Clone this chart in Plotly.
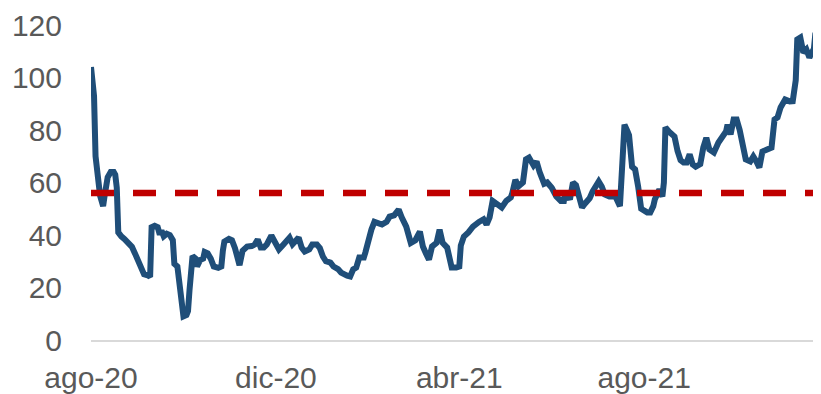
import plotly.graph_objects as go

dates = [
    "2020-08-01", "2020-08-02", "2020-08-03", "2020-08-04", "2020-08-05", "2020-08-06", "2020-08-07",
    "2020-08-08", "2020-08-09", "2020-08-10", "2020-08-11", "2020-08-12", "2020-08-14", "2020-08-16",
    "2020-08-17", "2020-08-18", "2020-08-19", "2020-08-20", "2020-08-21", "2020-08-23", "2020-08-25",
    "2020-08-28", "2020-08-30", "2020-09-01", "2020-09-03", "2020-09-05", "2020-09-08", "2020-09-09",
    "2020-09-10", "2020-09-12", "2020-09-14", "2020-09-15", "2020-09-17", "2020-09-18", "2020-09-20",
    "2020-09-22", "2020-09-24", "2020-09-25", "2020-09-27", "2020-09-29", "2020-09-30", "2020-10-01",
    "2020-10-03", "2020-10-04", "2020-10-05", "2020-10-06", "2020-10-07", "2020-10-09", "2020-10-10",
    "2020-10-12", "2020-10-14", "2020-10-15", "2020-10-17", "2020-10-19", "2020-10-21", "2020-10-24",
    "2020-10-26", "2020-10-27", "2020-10-28", "2020-10-31", "2020-11-02", "2020-11-04", "2020-11-06",
    "2020-11-07", "2020-11-09", "2020-11-12", "2020-11-15", "2020-11-17", "2020-11-19", "2020-11-21",
    "2020-11-23", "2020-11-25", "2020-11-28", "2020-11-30", "2020-12-03", "2020-12-06", "2020-12-10",
    "2020-12-12", "2020-12-14", "2020-12-16", "2020-12-18", "2020-12-20", "2020-12-23", "2020-12-25",
    "2020-12-28", "2020-12-30", "2021-01-01", "2021-01-03", "2021-01-06", "2021-01-08", "2021-01-11",
    "2021-01-13", "2021-01-17", "2021-01-19", "2021-01-21", "2021-01-23", "2021-01-25", "2021-01-28",
    "2021-01-29", "2021-01-31", "2021-02-02", "2021-02-04", "2021-02-07", "2021-02-09", "2021-02-12",
    "2021-02-14", "2021-02-17", "2021-02-20", "2021-02-22", "2021-02-25", "2021-02-28", "2021-03-03",
    "2021-03-06", "2021-03-08", "2021-03-10", "2021-03-12", "2021-03-14", "2021-03-17", "2021-03-19",
    "2021-03-21", "2021-03-24", "2021-03-26", "2021-03-27", "2021-03-30", "2021-04-01", "2021-04-02",
    "2021-04-04", "2021-04-07", "2021-04-10", "2021-04-14", "2021-04-17", "2021-04-19", "2021-04-21",
    "2021-04-23", "2021-04-26", "2021-04-29", "2021-05-02", "2021-05-05", "2021-05-06", "2021-05-08",
    "2021-05-10", "2021-05-13", "2021-05-15", "2021-05-17", "2021-05-20", "2021-05-22", "2021-05-24",
    "2021-05-27", "2021-05-29", "2021-06-01", "2021-06-04", "2021-06-07", "2021-06-09", "2021-06-10",
    "2021-06-13", "2021-06-15", "2021-06-17", "2021-06-19", "2021-06-21", "2021-06-23", "2021-06-26",
    "2021-06-28", "2021-07-02", "2021-07-04", "2021-07-06", "2021-07-09", "2021-07-13", "2021-07-16",
    "2021-07-17", "2021-07-19", "2021-07-21", "2021-07-22", "2021-07-24", "2021-07-26", "2021-07-28",
    "2021-07-30", "2021-08-03", "2021-08-05", "2021-08-07", "2021-08-08", "2021-08-11", "2021-08-13",
    "2021-08-14", "2021-08-15", "2021-08-18", "2021-08-21", "2021-08-23", "2021-08-25", "2021-08-27",
    "2021-08-29", "2021-08-31", "2021-09-02", "2021-09-04", "2021-09-07", "2021-09-09", "2021-09-11",
    "2021-09-13", "2021-09-16", "2021-09-19", "2021-09-22", "2021-09-24", "2021-09-25", "2021-09-27",
    "2021-09-29", "2021-10-01", "2021-10-03", "2021-10-05", "2021-10-07", "2021-10-10", "2021-10-12",
    "2021-10-14", "2021-10-16", "2021-10-18", "2021-10-21", "2021-10-24", "2021-10-26", "2021-10-28",
    "2021-10-30", "2021-11-02", "2021-11-05", "2021-11-07", "2021-11-09", "2021-11-10", "2021-11-12",
    "2021-11-14", "2021-11-16", "2021-11-18", "2021-11-20", "2021-11-21", "2021-11-22", "2021-11-24",
    "2021-11-25",
]

values = [
    104, 95, 93, 70, 63, 61, 55,
    53, 51, 55, 59, 62, 64, 64,
    63, 58, 41, 40, 39.5, 38.5, 37.5,
    35.5, 33, 30, 26.5, 25, 24.5, 24,
    43, 43.5, 43, 41, 41, 39.5, 40.5,
    40, 38, 29, 28, 20, 15, 9,
    9.5, 11, 19, 25, 32, 31, 28,
    30.5, 31, 33.5, 33, 31, 28, 27.5,
    28, 34, 37.5, 38.5, 38, 35, 29,
    28.5, 34, 35.6, 35.8, 36.4, 38.3, 35.2,
    35.2, 36.4, 39.8, 37.5, 34.5, 36.4, 39,
    36.5, 37.5, 39, 35.2, 33.7, 34.5, 36.4,
    36.4, 35, 31.8, 30, 29.5, 28, 27,
    25.7, 24.5, 24.2, 26.9, 27.6, 31.4, 31.4,
    33.3, 38.3, 42, 45, 44.5, 44, 45,
    47, 47.5, 49.7, 46.7, 43.2, 37, 38,
    41.3, 35.6, 33, 30.6, 35.6, 37, 42,
    37, 35.2, 30, 27.6, 27.6, 28, 36,
    39.4, 41, 43.2, 45, 46, 44, 46.7,
    53, 51.6, 50.5, 53, 54.3, 56, 61,
    58.5, 60, 68.8, 69.5, 66.5, 68, 64,
    59.5, 60, 58, 54.7, 53, 53, 56.6,
    53.5, 60, 59, 55, 50.5, 52, 54,
    56.6, 60.4, 58.5, 55.4, 54.7, 54.7, 51,
    66, 82, 79.5, 78, 66, 65, 58.5,
    50, 48.6, 48.6, 51, 53.5, 57.3, 54.7,
    60, 81, 79, 77.5, 72, 68.5, 67.6,
    67.6, 70.7, 66.9, 66, 67, 73.3, 77,
    72.6, 71.4, 75.2, 78.3, 79.4, 82, 78.3,
    84, 84, 80, 72.6, 68.8, 68, 69.9,
    68, 65.7, 71.8, 72.6, 73.3, 84, 84.8,
    88.6, 91.6, 90.9, 91, 99, 114.5, 115.2,
    109.5, 110.7, 107.6, 109.9, 111, 117, 110.7,
    111.4,
]

average_value = 56
tick_dates = ["2020-08-01", "2020-12-01", "2021-04-01", "2021-08-01"]
tick_labels = ["ago-20", "dic-20", "abr-21", "ago-21"]
y_ticks = [0, 20, 40, 60, 80, 100, 120]

fig = go.Figure()
fig.add_trace(go.Scatter(
    x=dates, y=values, mode="lines",
    line=dict(color="#1f4e79", width=6),
    showlegend=False, hoverinfo="skip",
))
fig.add_trace(go.Scatter(
    x=[dates[0], dates[-1]], y=[average_value, average_value], mode="lines",
    line=dict(color="#c00000", width=6.5, dash="23px,19px"),
    showlegend=False, hoverinfo="skip",
))

# page body has an 8px default margin, so the figure is sized to fill the rest
fig.update_layout(
    width=813, height=386,
    margin=dict(l=83, r=1, t=17, b=54, autoexpand=False),
    paper_bgcolor="white", plot_bgcolor="white",
    font=dict(family="Liberation Sans, Arial, sans-serif", color="#595959", size=30),
)
fig.update_xaxes(
    type="date", range=[dates[0], dates[-1]], automargin=False,
    tickvals=tick_dates, ticktext=tick_labels,
    showgrid=False, zeroline=False,
    showline=True, linecolor="#d9d9d9", linewidth=2,
    ticks="outside", ticklen=10, tickcolor="rgba(0,0,0,0)",
    tickfont=dict(size=30, color="#595959"),
)
fig.update_yaxes(
    range=[0, 120], tickvals=y_ticks, automargin=False,
    showgrid=False, zeroline=False, showline=False,
    ticks="outside", ticklen=22, tickcolor="rgba(0,0,0,0)",
    tickfont=dict(size=30, color="#595959"),
)

fig.write_html("out.html")
